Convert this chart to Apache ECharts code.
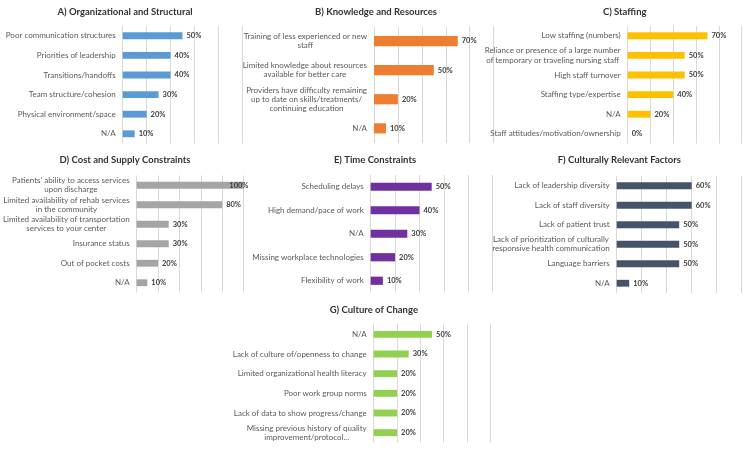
<!DOCTYPE html>
<html><head><meta charset="utf-8">
<script src="https://cdn.jsdelivr.net/npm/echarts@6/dist/echarts.min.js"></script>
<style>html,body{margin:0;padding:0;background:#fff}#c{width:750px;height:450px}</style>
</head><body><div id="c"></div>
<script>
// ---- data ----
const titleA = 'A) Organizational and Structural';
const catsA = ['Poor communication structures','Priorities of leadership','Transitions/handoffs','Team structure/cohesion','Physical environment/space','N/A'];
const valsA = [50,40,40,30,20,10];

const titleB = 'B) Knowledge and Resources';
const catsB = ['Training of less experienced or new\nstaff','Limited knowledge about resources\navailable for better care','Providers have difficulty remaining\nup to date on skills/treatments/\ncontinuing education','N/A'];
const valsB = [70,50,20,10];

const titleC = 'C) Staffing';
const catsC = ['Low staffing (numbers)','Reliance or presence of a large number\nof temporary or traveling nursing staff','High staff turnover','Staffing type/expertise','N/A','Staff attitudes/motivation/ownership'];
const valsC = [70,50,50,40,20,0];

const titleD = 'D) Cost and Supply Constraints';
const catsD = ["Patients' ability to access services\nupon discharge",'Limited availability of rehab services\nin the community','Limited availability of transportation\nservices to your center','Insurance status','Out of pocket costs','N/A'];
const valsD = [100,80,30,30,20,10];

const titleE = 'E) Time Constraints';
const catsE = ['Scheduling delays','High demand/pace of work','N/A','Missing workplace technologies','Flexibility of work'];
const valsE = [50,40,30,20,10];

const titleF = 'F) Culturally Relevant Factors';
const catsF = ['Lack of leadership diversity','Lack of staff diversity','Lack of patient trust','Lack of prioritization of culturally\nresponsive health communication','Language barriers','N/A'];
const valsF = [60,60,50,50,50,10];

const titleG = 'G) Culture of Change';
const catsG = ['N/A','Lack of culture of/openness to change','Limited organizational health literacy','Poor work group norms','Lack of data to show progress/change','Missing previous history of quality\nimprovement/protocol...'];
const valsG = [50,30,20,20,20,20];

const axisTicks = [0,20,40,60,80,100];

// ---- layout ----
const FONT = 'Lato, "Open Sans", sans-serif';
const panels = [
  {t:titleA, c:catsA, v:valsA, color:'#5B9BD5', g:{left:122.7, width:119.6, top:26, height:117.6}, tx:125, ty:6.5},
  {t:titleB, c:catsB, v:valsB, color:'#ED7D31', g:{left:374, width:119.6, top:26.5, height:116.4}, tx:376, ty:6.5},
  {t:titleC, c:catsC, v:valsC, color:'#FFC000', g:{left:627.7, width:114, top:26, height:117.6}, tx:624.7, ty:6.5},
  {t:titleD, c:catsD, v:valsD, color:'#A5A5A5', g:{left:126, width:117.5, top:175.5, height:117}, tx:125, ty:154.7},
  {t:titleE, c:catsE, v:valsE, color:'#7030A0', g:{left:370.7, width:122, top:175, height:117.5}, tx:375, ty:154.7},
  {t:titleF, c:catsF, v:valsF, color:'#44546A', g:{left:616.7, width:125, top:176, height:117}, tx:619.3, ty:154.7},
  {t:titleG, c:catsG, v:valsG, color:'#92D050', g:{left:373.7, width:116.7, top:324.5, height:118}, tx:373.8, ty:304.7}
];

const labelStyle = {fontFamily:FONT, fontSize:8, color:'#595959', lineHeight:9.3};
function fmtCat(v){
  if (v.indexOf('\n') < 0) return v;
  return v.split('\n').map(s => '{c|' + s + '}').join('\n');
}

const option = {
  animation:false,
  backgroundColor:'#fff',
  title:[], grid:[], xAxis:[], yAxis:[], series:[]
};
panels.forEach((p,i) => {
  option.title.push({text:p.t, left:p.tx, top:p.ty, textAlign:'center', padding:0,
    textStyle:{fontFamily:FONT, fontSize:9.5, fontWeight:'bold', color:'#333'}});
  option.grid.push(Object.assign({containLabel:false}, p.g));
  option.xAxis.push({type:'value', gridIndex:i, min:axisTicks[0], max:axisTicks[axisTicks.length-1],
    interval:axisTicks[1]-axisTicks[0],
    axisLabel:{show:false}, axisLine:{show:false}, axisTick:{show:false},
    splitLine:{show:true, lineStyle:{color:'#D9D9D9', width:1}}});
  option.yAxis.push({type:'category', gridIndex:i, data:p.c, inverse:true,
    axisLine:{show:false}, axisTick:{show:false},
    axisLabel:Object.assign({margin:7, formatter:fmtCat, rich:{c:Object.assign({align:'center'}, labelStyle)}}, labelStyle)});
  option.series.push({type:'bar', xAxisIndex:i, yAxisIndex:i, barCategoryGap:'65%',
    itemStyle:{color:p.color},
    label:{show:true, position:'right', distance:4, formatter:'{c}%',
      fontFamily:FONT, fontSize:7.5, fontWeight:'bold', color:'#404040'},
    data:p.v.map(val => val >= 100 ? {value:val, label:{position:'insideRight', offset:[9,0]}} : val)});
});
echarts.init(document.getElementById('c'), null, {renderer:'canvas'}).setOption(option);
</script>
</body></html>
